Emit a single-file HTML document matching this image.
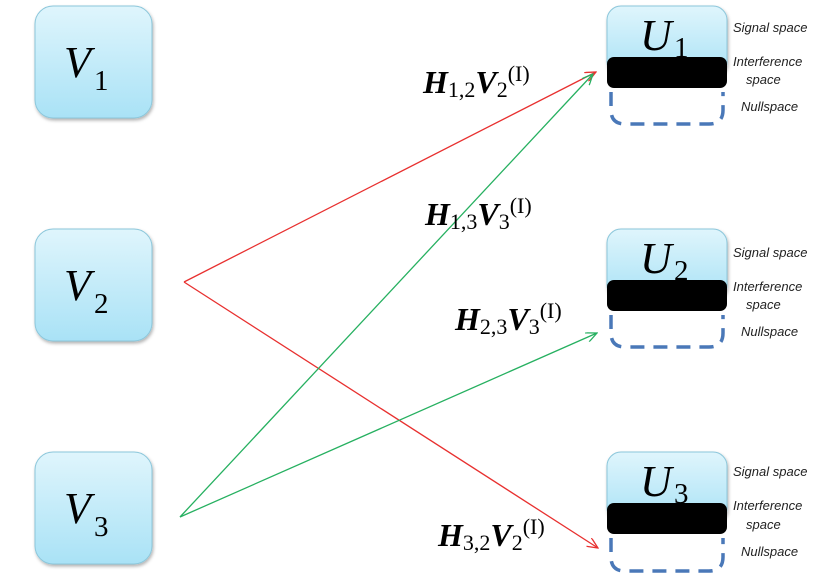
<!DOCTYPE html>
<html><head><meta charset="utf-8"><style>
html,body{margin:0;padding:0;background:#fff;}
svg{display:block;}
.lab{font-family:"Liberation Serif",serif;font-weight:bold;font-style:italic;font-size:32px;}
.sub{font-family:"Liberation Serif",serif;font-style:normal;font-weight:normal;font-size:22px;}
.sp{font-family:"Liberation Sans",sans-serif;font-style:italic;font-size:13px;fill:#222;}
.big{font-family:"Liberation Serif",serif;font-style:italic;font-size:44px;}
.n{font-family:"Liberation Serif",serif;font-size:29px;font-style:normal;}
</style></head><body>
<svg width="813" height="579" viewBox="0 0 813 579" xmlns="http://www.w3.org/2000/svg">
<defs>
<linearGradient id="g" x1="0" y1="0" x2="0" y2="1"><stop offset="0" stop-color="#dff5fc"/><stop offset="1" stop-color="#a9e2f6"/></linearGradient>
<filter id="s" x="-10%" y="-10%" width="130%" height="130%"><feDropShadow dx="1" dy="2" stdDeviation="1.5" flood-color="#000" flood-opacity="0.3"/></filter>
<marker id="ar" markerWidth="12" markerHeight="10" refX="11" refY="5" orient="auto" markerUnits="userSpaceOnUse"><path d="M0,0 L11,5 L0,10" fill="none" stroke="#e8302f" stroke-width="1.3"/></marker>
<marker id="ag" markerWidth="12" markerHeight="10" refX="11" refY="5" orient="auto" markerUnits="userSpaceOnUse"><path d="M0,0 L11,5 L0,10" fill="none" stroke="#26b060" stroke-width="1.3"/></marker>
</defs>
<g filter="url(#s)" stroke="#8cc7db" stroke-width="1" fill="url(#g)">
<rect x="35" y="6" width="117" height="112" rx="18"/>
<rect x="35" y="229" width="117" height="112" rx="18"/>
<rect x="35" y="452" width="117" height="112" rx="18"/>
</g>
<text class="big" x="64" y="77">V<tspan class="n" x="94" y="90">1</tspan></text>
<text class="big" x="64" y="300">V<tspan class="n" x="94" y="313">2</tspan></text>
<text class="big" x="64" y="523">V<tspan class="n" x="94" y="536">3</tspan></text>
<g>
<rect x="607" y="6" width="120" height="70" rx="14" fill="url(#g)" stroke="#8cc7db" filter="url(#s)"/>
<rect x="607" y="57" width="120" height="31" rx="7" fill="#000"/>
<path d="M611,92 L611,110 Q611,124 625,124 L709,124 Q723,124 723,110 L723,92" fill="none" stroke="#4a78b8" stroke-width="3.5" stroke-dasharray="14,9"/>
<text class="big" x="640" y="50">U<tspan class="n" x="674" y="57">1</tspan></text>
<rect x="607" y="229" width="120" height="70" rx="14" fill="url(#g)" stroke="#8cc7db" filter="url(#s)"/>
<rect x="607" y="280" width="120" height="31" rx="7" fill="#000"/>
<path d="M611,315 L611,333 Q611,347 625,347 L709,347 Q723,347 723,333 L723,315" fill="none" stroke="#4a78b8" stroke-width="3.5" stroke-dasharray="14,9"/>
<text class="big" x="640" y="273">U<tspan class="n" x="674" y="280">2</tspan></text>
<rect x="607" y="452" width="120" height="70" rx="14" fill="url(#g)" stroke="#8cc7db" filter="url(#s)"/>
<rect x="607" y="503" width="120" height="31" rx="7" fill="#000"/>
<path d="M611,538 L611,557 Q611,571 625,571 L709,571 Q723,571 723,557 L723,538" fill="none" stroke="#4a78b8" stroke-width="3.5" stroke-dasharray="14,9"/>
<text class="big" x="640" y="496">U<tspan class="n" x="674" y="503">3</tspan></text>
</g>
<g class="sp">
<text x="733" y="32">Signal space</text><text x="733" y="66">Interference</text><text x="746" y="84">space</text><text x="741" y="111">Nullspace</text>
<text x="733" y="257">Signal space</text><text x="733" y="291">Interference</text><text x="746" y="309">space</text><text x="741" y="336">Nullspace</text>
<text x="733" y="476">Signal space</text><text x="733" y="510">Interference</text><text x="746" y="529">space</text><text x="741" y="556">Nullspace</text>
</g>
<g stroke-width="1.3" fill="none">
<path d="M184,282 L596,72" stroke="#e8302f" marker-end="url(#ar)"/>
<path d="M184,282 L598,548" stroke="#e8302f" marker-end="url(#ar)"/>
<path d="M180,517 L593,74" stroke="#26b060" marker-end="url(#ag)"/>
<path d="M180,517 L597,333" stroke="#26b060" marker-end="url(#ag)"/>
</g>
<text class="lab" x="423" y="93">H<tspan class="sub" dy="4">1,2</tspan><tspan dy="-4">V</tspan><tspan class="sub" dy="4">2</tspan><tspan class="sub" dy="-16" font-size="19">(I)</tspan></text>
<text class="lab" x="425" y="225">H<tspan class="sub" dy="4">1,3</tspan><tspan dy="-4">V</tspan><tspan class="sub" dy="4">3</tspan><tspan class="sub" dy="-16" font-size="19">(I)</tspan></text>
<text class="lab" x="455" y="330">H<tspan class="sub" dy="4">2,3</tspan><tspan dy="-4">V</tspan><tspan class="sub" dy="4">3</tspan><tspan class="sub" dy="-16" font-size="19">(I)</tspan></text>
<text class="lab" x="438" y="546">H<tspan class="sub" dy="4">3,2</tspan><tspan dy="-4">V</tspan><tspan class="sub" dy="4">2</tspan><tspan class="sub" dy="-16" font-size="19">(I)</tspan></text>
</svg>
</body></html>
